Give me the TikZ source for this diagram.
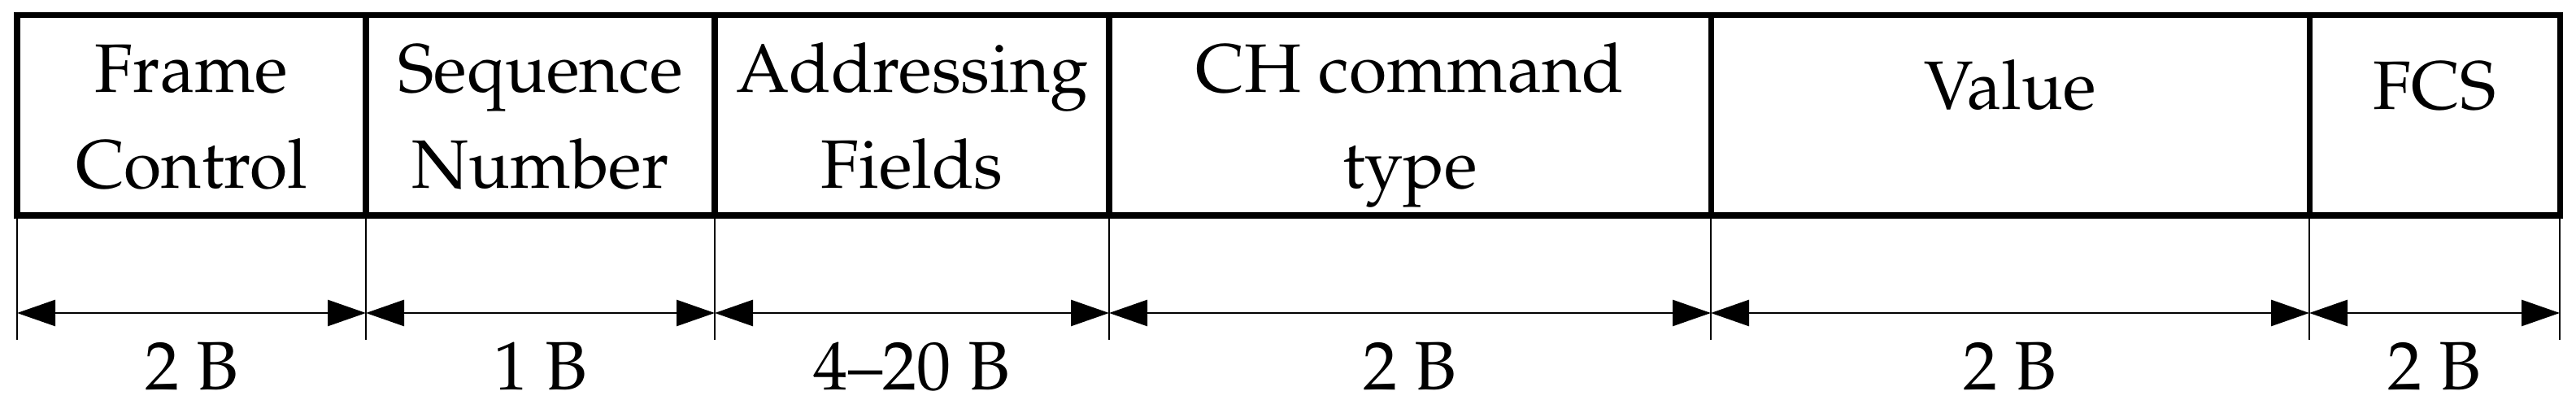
\documentclass[tikz,border=0pt]{standalone}
\usepackage[T1]{fontenc}
\usepackage{mathpazo}
\usetikzlibrary{positioning,arrows.meta}

\begin{document}
\begin{tikzpicture}[
    field/.style={draw, line width=2pt, outer sep=0pt, inner sep=0pt,
        minimum height=2.465cm, align=center,
        text height=2.135cm, text depth=0.33cm,
        font=\fontsize{24}{33.6}\selectfont},
    onerow/.style={field, text height=1.165cm, text depth=1.30cm},
    tick/.style={line width=0.6pt},
    dim/.style={line width=0.8pt,
        {Triangle[length=0.47cm,width=0.32cm]}-{Triangle[length=0.47cm,width=0.32cm]}},
    bytes/.style={midway, anchor=base, yshift=-0.95cm,
        font=\fontsize{24}{28}\selectfont}
]
    \useasboundingbox (0,0) rectangle (31.68,5.08);
    \node[field, minimum width=4.29cm, anchor=south west] (fc) at (0.21,2.43) {Frame\\Control};
    \node[field, minimum width=4.29cm, right=0pt of fc] (sn) {Sequence\\Number};
    \node[field, minimum width=4.85cm, right=0pt of sn] (af) {Addressing\\Fields};
    \node[field, minimum width=7.40cm, right=0pt of af] (ch) {CH command\\type};
    \node[onerow, minimum width=7.36cm, right=0pt of ch] (va) {Value};
    \node[onerow, minimum width=3.08cm, right=0pt of va] (fcs) {FCS};

    \draw[tick] (fc.south west) -- ++(0,-1.53) coordinate (d0);
    \draw[tick] (fc.south east) -- ++(0,-1.53) coordinate (d1);
    \draw[tick] (sn.south east) -- ++(0,-1.53) coordinate (d2);
    \draw[tick] (af.south east) -- ++(0,-1.53) coordinate (d3);
    \draw[tick] (ch.south east) -- ++(0,-1.53) coordinate (d4);
    \draw[tick] (va.south east) -- ++(0,-1.53) coordinate (d5);
    \draw[tick] (fcs.south east) -- ++(0,-1.53) coordinate (d6);

    \draw[dim] ([yshift=0.33cm]d0) -- ([yshift=0.33cm]d1) node[bytes] (b1) {2 B};
    \draw[dim] ([yshift=0.33cm]d1) -- ([yshift=0.33cm]d2) node[bytes] (b2) {1 B};
    \draw[dim] ([yshift=0.33cm]d2) -- ([yshift=0.33cm]d3) node[bytes] (b3) {4--20 B};
    \draw[dim] ([yshift=0.33cm]d3) -- ([yshift=0.33cm]d4) node[bytes] (b4) {2 B};
    \draw[dim] ([yshift=0.33cm]d4) -- ([yshift=0.33cm]d5) node[bytes] (b5) {2 B};
    \draw[dim] ([yshift=0.33cm]d5) -- ([yshift=0.33cm]d6) node[bytes] (b6) {2 B};
\end{tikzpicture}
\end{document}
